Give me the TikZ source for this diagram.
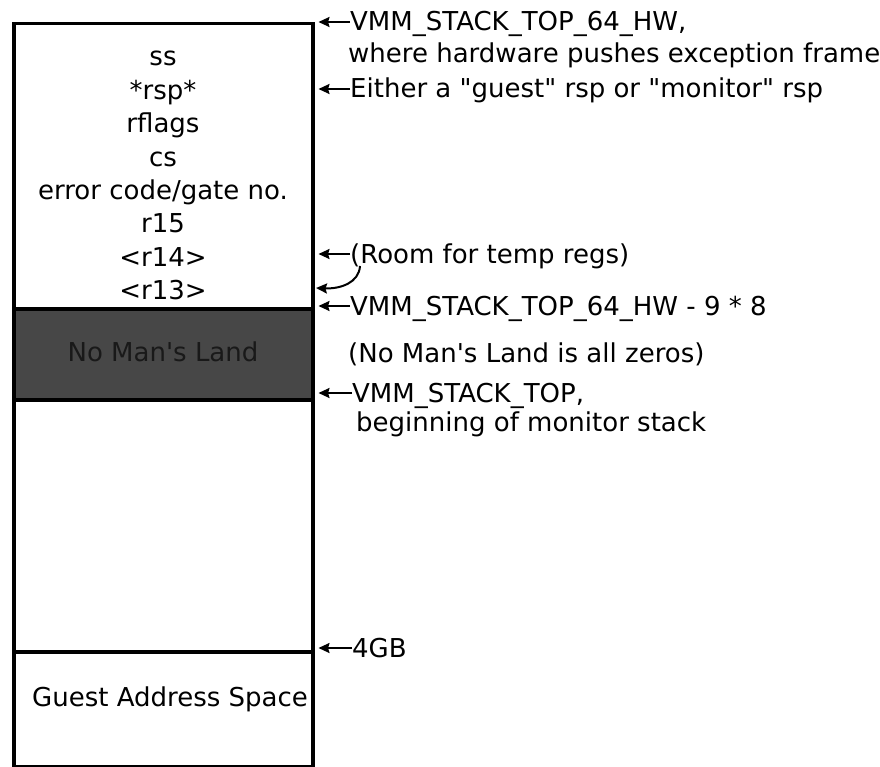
\documentclass[tikz,border=0pt]{standalone}
\usepackage{fontspec}
\setmainfont{DejaVu Sans}[Ligatures=TeXOff]
\usetikzlibrary{arrows.meta,positioning}

\begin{document}
\begin{tikzpicture}[x=1pt,y=-1pt,node distance=0pt,
    font=\fontsize{26}{30}\selectfont,
    region/.style={draw,line width=3.5pt,minimum width=299pt,inner sep=0pt,anchor=north west},
    cell/.style={inner sep=0pt,text height=22pt,text depth=11pt},
    note/.style={anchor=base west,inner sep=0pt,text height=18pt,text depth=0pt},
    ptr/.style={-{Stealth[length=11pt,width=10pt,inset=1.5pt]},line width=2pt,shorten >=4pt}]
  \useasboundingbox (0,0) rectangle (880,767);
  \node[region,minimum height=285pt] (hwframe) at (12,22) {};
  \node[region,minimum height=91pt,fill=black!72] (nml) at (12,307) {};
  \node[region,minimum height=252pt] (monitor) at (12,398) {};
  \node[region,minimum height=115pt] (guest) at (12,650) {};
  \node[cell] (ss) at (163,60.5) {ss};
  \node[cell,below=of ss] (rsp) {*rsp*};
  \node[cell,below=of rsp] (rflags) {rflags};
  \node[cell,below=of rflags] (cs) {cs};
  \node[cell,below=of cs] (errcode) {error code/gate no.};
  \node[cell,below=of errcode] (r15) {r15};
  \node[cell,below=of r15] (r14) {<r14>};
  \node[cell,below=of r14] (r13) {<r13>};
  \node[anchor=base,inner sep=0pt,text=black!90] (nmltxt) at (163,361) {No Man's Land};
  \node[anchor=base,inner sep=0pt] (guesttxt) at (170,706) {Guest Address Space};
  \node[note] (hwtop) at (350,31) {VMM\_STACK\_TOP\_64\_HW,};
  \node[note] (hwtopnote) at (348,63) {where hardware pushes exception frame};
  \node[note] (rspnote) at (350,98) {Either a "guest" rsp or "monitor" rsp};
  \node[note] (tempregs) at (350,263) {(Room for temp regs)};
  \node[note] (hwbase) at (350,315) {VMM\_STACK\_TOP\_64\_HW - 9 * 8};
  \node[note] (zeros) at (348,362) {(No Man's Land is all zeros)};
  \node[note] (montop) at (352,402) {VMM\_STACK\_TOP,};
  \node[note] (montopnote) at (356,431) {beginning of monitor stack};
  \node[note] (fourgb) at (352,657) {4GB};
  \coordinate (r13tip) at (316,288);
  \draw[ptr] (hwtop.west) -- (hwtop.west -| hwframe.east);
  \draw[ptr] (rspnote.west) -- (rspnote.west -| hwframe.east);
  \draw[ptr] (tempregs.west) -- (tempregs.west -| hwframe.east);
  \draw[ptr,shorten >=0pt] ([xshift=10pt,yshift=-3pt]tempregs.base west) .. controls (359,283) and (340,289) .. (r13tip);
  \draw[ptr] (hwbase.west) -- (hwbase.west -| hwframe.east);
  \draw[ptr] (montop.west) -- (montop.west -| hwframe.east);
  \draw[ptr] (fourgb.west) -- (fourgb.west -| hwframe.east);
\end{tikzpicture}
\end{document}
